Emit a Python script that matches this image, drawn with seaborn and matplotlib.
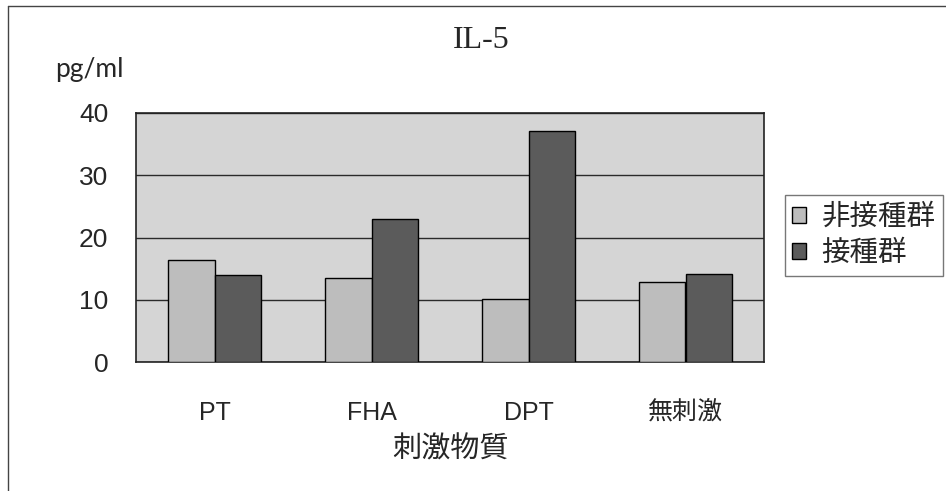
import matplotlib
matplotlib.use("Agg")
import matplotlib.pyplot as plt
from matplotlib.lines import Line2D
import seaborn as sns
import pandas as pd

# IL-5 production by stimulant (pg/ml)
categories = ["PT", "FHA", "DPT", "無刺激"]
group_names = ["非接種群", "接種群"]
non_vaccinated = [16.4, 13.5, 10.1, 12.8]
vaccinated = [13.9, 23.0, 37.1, 14.2]
y_ticks = [0, 10, 20, 30, 40]

df = pd.DataFrame({
    "刺激物質": categories * 2,
    "群": [group_names[0]] * len(categories) + [group_names[1]] * len(categories),
    "値": non_vaccinated + vaccinated,
})

sns.set_theme(style="white")
plt.rcParams["font.family"] = ["Noto Sans CJK JP", "DejaVu Sans"]

W, H = 946, 491
ax_left, ax_right, ax_top, ax_bottom = 136, 764, 113, 362
fig = plt.figure(figsize=(W / 100, H / 100), dpi=100)
ax = fig.add_axes([ax_left / W, 1 - ax_bottom / H,
                   (ax_right - ax_left) / W, (ax_bottom - ax_top) / H])
ax.set_facecolor("#d5d5d5")

sns.barplot(
    data=df, x="刺激物質", y="値", hue="群",
    palette=["#bdbdbd", "#5b5b5b"], width=0.59,
    edgecolor="black", linewidth=1.0, saturation=1, ax=ax, zorder=3,
)

ax.set_xlim(-0.5, len(categories) - 0.5)
ax.set_ylim(0, 40)
ax.set_yticks(y_ticks)
ax.yaxis.grid(True, color="#2a2a2a", linewidth=1.0, zorder=1)
ax.set_axisbelow(True)

for s in ax.spines.values():
    s.set_color("#222222")
    s.set_linewidth(1.2)
    s.set_visible(True)

num_font = ["Liberation Sans", "Noto Sans CJK JP"]
ax.set_yticklabels([str(t) for t in y_ticks], fontsize=19, family=num_font)
ax.set_xticks(range(len(categories)))
ax.set_xticklabels(categories, fontsize=18, family=num_font)
ax.tick_params(axis="x", length=0, pad=28)
ax.tick_params(axis="y", length=0, pad=20)
ax.set_xticks([0.5, 1.5, 2.5], minor=True)
ax.tick_params(axis="x", which="minor", direction="in", length=8, width=1.2, color="#222222")

ax.set_xlabel("刺激物質", fontsize=21)
ax.xaxis.label.set_va("center")
ax.xaxis.set_label_coords(0.5, -(449 - ax_bottom) / (ax_bottom - ax_top))
ax.set_ylabel("")

fig.text(481 / W, 1 - 41 / H, "IL-5", fontsize=23, family="Liberation Serif",
         ha="center", va="center")
fig.text(55 / W, 1 - 70 / H, "pg/ml", fontsize=19, family="Lato",
         ha="left", va="center")

leg = ax.legend(
    loc="upper left", bbox_to_anchor=(785 / W, 1 - 195 / H),
    bbox_transform=fig.transFigure, borderaxespad=0,
    fontsize=20.5, frameon=True, fancybox=False,
    handlelength=0.48, handleheight=0.48, handletextpad=0.55,
    labelspacing=0.22, borderpad=0.25, title=None,
)
leg.get_frame().set_edgecolor("#555555")
leg.get_frame().set_linewidth(1.0)
leg.get_frame().set_facecolor("white")

# outer frame lines along the top and left of the figure
fig.add_artist(Line2D([8 / W, 1], [1 - 6 / H, 1 - 6 / H], transform=fig.transFigure,
                      color="#444444", linewidth=1.0))
fig.add_artist(Line2D([8 / W, 8 / W], [0, 1 - 6 / H], transform=fig.transFigure,
                      color="#444444", linewidth=1.0))

fig.savefig("out.png", dpi=100, facecolor="white")
